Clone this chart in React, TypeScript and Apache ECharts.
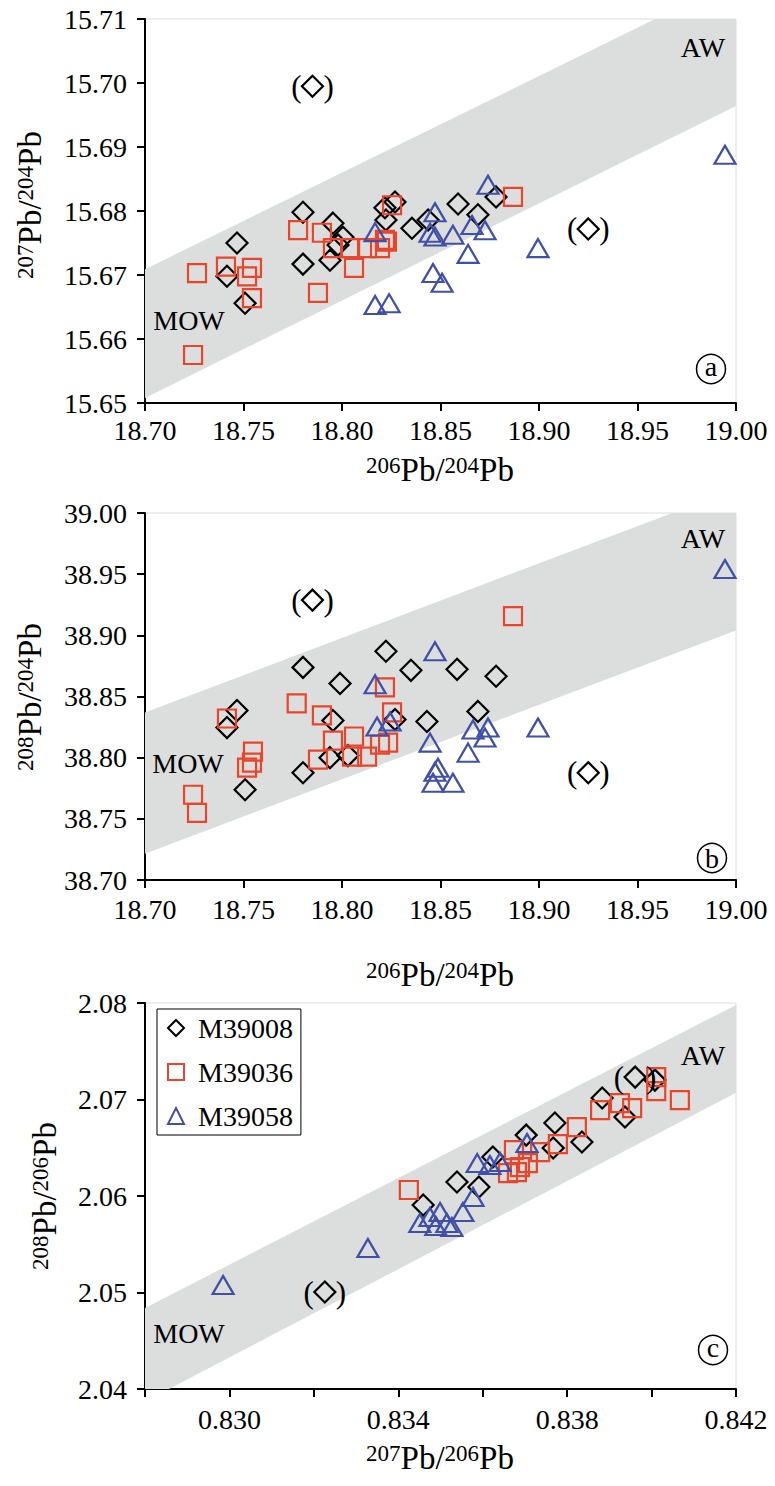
import React, { useEffect, useRef } from "react";
import * as echarts from "echarts";

const FONT = "Liberation Serif";
const BLACK = "#000000";
const RED = "#E8452B";
const BLUE = "#4050A8";
const BAND = "#DCDEDE";

const SERIES_NAMES = ["M39008", "M39036", "M39058"];

// ---------- Panel (a): 206Pb/204Pb vs 207Pb/204Pb ----------
const aX = { min: 18.7, max: 19.0, interval: 0.05 };
const aY = { min: 15.65, max: 15.71, interval: 0.01 };
const aM39008 = [
  [18.7467, 15.675], [18.7416, 15.6698], [18.7508, 15.6656], [18.7802, 15.6798],
  [18.7802, 15.6717], [18.7954, 15.6781], [18.8005, 15.6759], [18.798, 15.6747],
  [18.7939, 15.6723], [18.8269, 15.6814], [18.8218, 15.6805], [18.8223, 15.6786],
  [18.8355, 15.6773], [18.8437, 15.6786], [18.8589, 15.6811], [18.869, 15.6794],
  [18.8782, 15.6822],
];
const aM39008Bracketed = [[18.785, 15.6995], [18.925, 15.6772]];
const aM39036 = [
  [18.7244, 15.6575], [18.7264, 15.6703], [18.7411, 15.6713], [18.7543, 15.6711],
  [18.7518, 15.6698], [18.7543, 15.6664], [18.7777, 15.677], [18.7898, 15.6766],
  [18.7878, 15.6672], [18.7954, 15.6742], [18.8041, 15.6742], [18.8061, 15.6711],
  [18.8127, 15.6742], [18.8193, 15.6742], [18.8228, 15.6752], [18.8218, 15.6755],
  [18.8254, 15.6809], [18.8868, 15.6822],
];
const aM39058 = [
  [18.8168, 15.6767], [18.8741, 15.6841], [18.8472, 15.6798], [18.8447, 15.6766],
  [18.8472, 15.676], [18.8563, 15.6763], [18.866, 15.6778], [18.8726, 15.677],
  [18.864, 15.6733], [18.8995, 15.6742], [18.8462, 15.6703], [18.8508, 15.6688],
  [18.8168, 15.6653], [18.8239, 15.6656], [18.9944, 15.6888],
];
// band: [x, lower, upper] at both ends
const aBand = [[18.7, 15.6508, 15.6709], [19.0, 15.6964, 15.7162]];

// ---------- Panel (b): 206Pb/204Pb vs 208Pb/204Pb ----------
const bX = { min: 18.7, max: 19.0, interval: 0.05 };
const bY = { min: 38.7, max: 39.0, interval: 0.05 };
const bM39008 = [
  [18.7802, 38.8738], [18.799, 38.8607], [18.8223, 38.887], [18.835, 38.8714],
  [18.8584, 38.8722], [18.8782, 38.8665], [18.869, 38.8378], [18.8431, 38.8296],
  [18.8269, 38.8312], [18.7467, 38.8386], [18.7416, 38.8246], [18.7954, 38.8304],
  [18.7939, 38.8], [18.803, 38.8017], [18.7802, 38.7877], [18.7508, 38.7738],
];
const bM39008Bracketed = [[18.785, 38.9288], [18.925, 38.7877]];
const bM39036 = [
  [18.7416, 38.832], [18.777, 38.8443], [18.7898, 38.8345], [18.8218, 38.8574],
  [18.8254, 38.837], [18.7548, 38.805], [18.7543, 38.796], [18.7518, 38.7918],
  [18.7244, 38.7697], [18.7264, 38.7549], [18.7954, 38.814], [18.8061, 38.8173],
  [18.7878, 38.7984], [18.8051, 38.8009], [18.8127, 38.8009], [18.8193, 38.8107],
  [18.8234, 38.8123], [18.8868, 38.9157],
];
const bM39058 = [
  [18.8472, 38.887], [18.8168, 38.86], [18.8244, 38.8296], [18.8178, 38.8255],
  [18.8447, 38.8123], [18.8665, 38.823], [18.8741, 38.8246], [18.8726, 38.8164],
  [18.864, 38.8041], [18.8995, 38.8246], [18.8487, 38.7918], [18.8472, 38.7885],
  [18.8462, 38.7795], [18.8563, 38.7795], [18.9944, 38.9542],
];
const bBand = [[18.7, 38.7215, 38.837], [19.0, 38.904, 39.0197]];

// ---------- Panel (c): 207Pb/206Pb vs 208Pb/206Pb ----------
const cX = { min: 0.828, max: 0.842, interval: 0.002 };
const cY = { min: 2.04, max: 2.08, interval: 0.01 };
const cM39008 = [
  [0.83459, 2.05906], [0.83539, 2.06145], [0.83591, 2.06093], [0.83624, 2.06404],
  [0.83703, 2.06631], [0.83771, 2.06756], [0.83767, 2.06497], [0.83835, 2.06559],
  [0.83883, 2.07015], [0.83937, 2.06818], [0.84008, 2.07201],
];
const cM39008Bracketed = [[0.83226, 2.05005], [0.83961, 2.07232]];
const cM39036 = [
  [0.83425, 2.06062], [0.83674, 2.06476], [0.8366, 2.06238], [0.83681, 2.06248],
  [0.83688, 2.063], [0.83707, 2.06341], [0.83736, 2.06455], [0.83778, 2.06538],
  [0.83823, 2.06714], [0.83878, 2.0689], [0.83925, 2.06963], [0.83954, 2.06911],
  [0.84011, 2.07232], [0.84011, 2.07087], [0.84067, 2.06994],
];
const cM39058 = [
  [0.82985, 2.05077], [0.83328, 2.05461], [0.83451, 2.0572], [0.83475, 2.05782],
  [0.83489, 2.05689], [0.83499, 2.05834], [0.83515, 2.0572], [0.83527, 2.05678],
  [0.83553, 2.05834], [0.83577, 2.05989], [0.83587, 2.06341], [0.83617, 2.06321],
  [0.83641, 2.06352], [0.83705, 2.06549],
];
const cBand = [[0.828, 2.0387, 2.0484], [0.842, 2.0707, 2.0798]];

// ---------- helpers ----------
type Pt = number[];
function clipPolygon(poly: Pt[], xmin: number, xmax: number, ymin: number, ymax: number): Pt[] {
  const planes: Array<[(p: Pt) => boolean, (a: Pt, b: Pt) => Pt]> = [
    [(p) => p[0] >= xmin, (a, b) => { const t = (xmin - a[0]) / (b[0] - a[0]); return [xmin, a[1] + t * (b[1] - a[1])]; }],
    [(p) => p[0] <= xmax, (a, b) => { const t = (xmax - a[0]) / (b[0] - a[0]); return [xmax, a[1] + t * (b[1] - a[1])]; }],
    [(p) => p[1] >= ymin, (a, b) => { const t = (ymin - a[1]) / (b[1] - a[1]); return [a[0] + t * (b[0] - a[0]), ymin]; }],
    [(p) => p[1] <= ymax, (a, b) => { const t = (ymax - a[1]) / (b[1] - a[1]); return [a[0] + t * (b[0] - a[0]), ymax]; }],
  ];
  let out = poly;
  for (const [inside, inter] of planes) {
    const input = out;
    out = [];
    for (let i = 0; i < input.length; i++) {
      const cur = input[i];
      const prev = input[(i + input.length - 1) % input.length];
      const cin = inside(cur);
      const pin = inside(prev);
      if (cin) {
        if (!pin) out.push(inter(prev, cur));
        out.push(cur);
      } else if (pin) {
        out.push(inter(prev, cur));
      }
    }
  }
  return out;
}

function bandSeries(band: number[][], xr: any, yr: any, idx: number) {
  const poly = [
    [band[0][0], band[0][1]],
    [band[1][0], band[1][1]],
    [band[1][0], band[1][2]],
    [band[0][0], band[0][2]],
  ];
  const clipped = clipPolygon(poly, xr.min, xr.max, yr.min, yr.max);
  return {
    type: "custom",
    xAxisIndex: idx,
    yAxisIndex: idx,
    silent: true,
    z: 1,
    data: [[band[0][0], band[0][1]]],
    renderItem: (_params: any, api: any) => ({
      type: "polygon",
      shape: { points: clipped.map((p) => api.coord(p)) },
      style: { fill: BAND, stroke: "none" },
    }),
  };
}

const bracketLabel = {
  show: true,
  position: "inside",
  formatter: "{p|(}{g| }{p|)}",
  rich: {
    p: { fontFamily: FONT, fontSize: 31, color: BLACK },
    g: { width: 22, fontSize: 10 },
  },
};

function markerSeries(name: string, data: number[][], idx: number, bracketed: number[][] = []) {
  const style: any = {
    M39008: { symbol: "diamond", symbolSize: 21, color: BLACK },
    M39036: { symbol: "rect", symbolSize: 18, color: RED },
    M39058: { symbol: "triangle", symbolSize: [21, 18], color: BLUE },
  }[name];
  return {
    type: "scatter",
    name,
    xAxisIndex: idx,
    yAxisIndex: idx,
    symbol: style.symbol,
    symbolSize: style.symbolSize,
    z: 3,
    itemStyle: { color: "rgba(255,255,255,0)", borderColor: style.color, borderWidth: 2.2, opacity: 1 },
    data: [
      ...data.map((d) => ({ value: d })),
      ...bracketed.map((d) => ({ value: d, label: bracketLabel })),
    ],
  };
}

function xAxisCfg(r: any, idx: number, fmt: (v: number) => string, margin: number) {
  return {
    type: "value",
    gridIndex: idx,
    min: r.min,
    max: r.max,
    interval: r.interval,
    axisLine: { show: true, onZero: false, lineStyle: { color: BLACK, width: 2 } },
    axisTick: { show: true, inside: false, length: 8, lineStyle: { color: BLACK, width: 2 } },
    splitLine: { show: false },
    axisLabel: { color: BLACK, fontFamily: FONT, fontSize: 28, margin, formatter: fmt },
  };
}

function yAxisCfg(r: any, idx: number, fmt: (v: number) => string) {
  return {
    type: "value",
    gridIndex: idx,
    min: r.min,
    max: r.max,
    interval: r.interval,
    axisLine: { show: true, onZero: false, lineStyle: { color: BLACK, width: 2 } },
    axisTick: { show: true, inside: false, length: 8, lineStyle: { color: BLACK, width: 2 } },
    splitLine: { show: false },
    axisLabel: { color: BLACK, fontFamily: FONT, fontSize: 28, margin: 18, formatter: fmt },
  };
}

const titleRich = {
  p: { fontFamily: FONT, fontSize: 33, color: BLACK },
  s: { fontFamily: FONT, fontSize: 23, color: BLACK, verticalAlign: "top" },
};

function titleText(text: string, x: number, y: number, rotate = false) {
  return {
    type: "text",
    x,
    y,
    rotation: rotate ? Math.PI / 2 : 0,
    z: 10,
    style: { text, rich: titleRich, align: "center", verticalAlign: "middle" },
  };
}

function plainText(text: string, x: number, y: number, size = 28) {
  return {
    type: "text",
    x,
    y,
    z: 10,
    style: { text, fontFamily: FONT, fontSize: size, fill: BLACK, align: "center", verticalAlign: "middle" },
  };
}

function circled(letter: string, x: number, y: number, dy: number) {
  return [
    { type: "circle", z: 10, shape: { cx: x, cy: y, r: 14.5 }, style: { fill: "none", stroke: BLACK, lineWidth: 1.5 } },
    plainText(letter, x, y + dy, 28),
  ];
}

export default function App() {
  const ref = useRef<HTMLDivElement>(null);
  useEffect(() => {
    if (!ref.current) return;
    const chart = echarts.init(ref.current, undefined, { renderer: "svg" });
    const f2 = (v: number) => v.toFixed(2);
    const fc = (v: number) => {
      const k = Math.round((v - 0.83) * 1000);
      return k % 4 === 0 ? v.toFixed(3) : "";
    };
    const gridCommon = { show: true, borderColor: "#dcdcdc", borderWidth: 1, backgroundColor: "transparent" };
    chart.setOption({
      animation: false,
      backgroundColor: "#ffffff",
      textStyle: { fontFamily: FONT },
      grid: [
        { ...gridCommon, left: 145, top: 19, width: 591, height: 384 },
        { ...gridCommon, left: 145, top: 513, width: 591, height: 367 },
        { ...gridCommon, left: 145, top: 1003, width: 591, height: 386 },
      ],
      xAxis: [xAxisCfg(aX, 0, f2, 13), xAxisCfg(bX, 1, f2, 15), xAxisCfg(cX, 2, fc, 16)],
      yAxis: [yAxisCfg(aY, 0, f2), yAxisCfg(bY, 1, f2), yAxisCfg(cY, 2, f2)],
      legend: {
        data: SERIES_NAMES,
        orient: "vertical",
        left: 157,
        top: 1009,
        backgroundColor: "#ffffff",
        borderColor: BLACK,
        borderWidth: 1,
        padding: [4, 8, 4, 10],
        itemGap: 14,
        itemWidth: 16,
        itemHeight: 16,
        selectedMode: false,
        textStyle: { fontFamily: FONT, fontSize: 28, color: BLACK, lineHeight: 30, padding: [0, 0, 0, 9] },
      },
      series: [
        bandSeries(aBand, aX, aY, 0),
        bandSeries(bBand, bX, bY, 1),
        bandSeries(cBand, cX, cY, 2),
        markerSeries("M39008", aM39008, 0, aM39008Bracketed),
        markerSeries("M39036", aM39036, 0),
        markerSeries("M39058", aM39058, 0),
        markerSeries("M39008", bM39008, 1, bM39008Bracketed),
        markerSeries("M39036", bM39036, 1),
        markerSeries("M39058", bM39058, 1),
        markerSeries("M39008", cM39008, 2, cM39008Bracketed),
        markerSeries("M39036", cM39036, 2),
        markerSeries("M39058", cM39058, 2),
      ],
      graphic: [
        titleText("{s|206}{p|Pb/}{s|204}{p|Pb}", 440, 470),
        titleText("{s|206}{p|Pb/}{s|204}{p|Pb}", 440, 975),
        titleText("{s|207}{p|Pb/}{s|206}{p|Pb}", 440, 1458),
        titleText("{s|207}{p|Pb/}{s|204}{p|Pb}", 30, 205, true),
        titleText("{s|208}{p|Pb/}{s|204}{p|Pb}", 30, 697, true),
        titleText("{s|208}{p|Pb/}{s|206}{p|Pb}", 45, 1196, true),
        plainText("AW", 703, 47),
        plainText("AW", 703, 538),
        plainText("AW", 703, 1055),
        plainText("MOW", 189, 320),
        plainText("MOW", 188, 763),
        plainText("MOW", 189, 1333),
        ...circled("a", 711, 369, -3),
        ...circled("b", 712, 858, 0),
        ...circled("c", 713, 1350, -3),
      ],
    });
    return () => chart.dispose();
  }, []);
  return (
    <div
      ref={ref}
      style={{ position: "absolute", left: 0, top: 0, width: 775, height: 1486, background: "#fff" }}
    />
  );
}
